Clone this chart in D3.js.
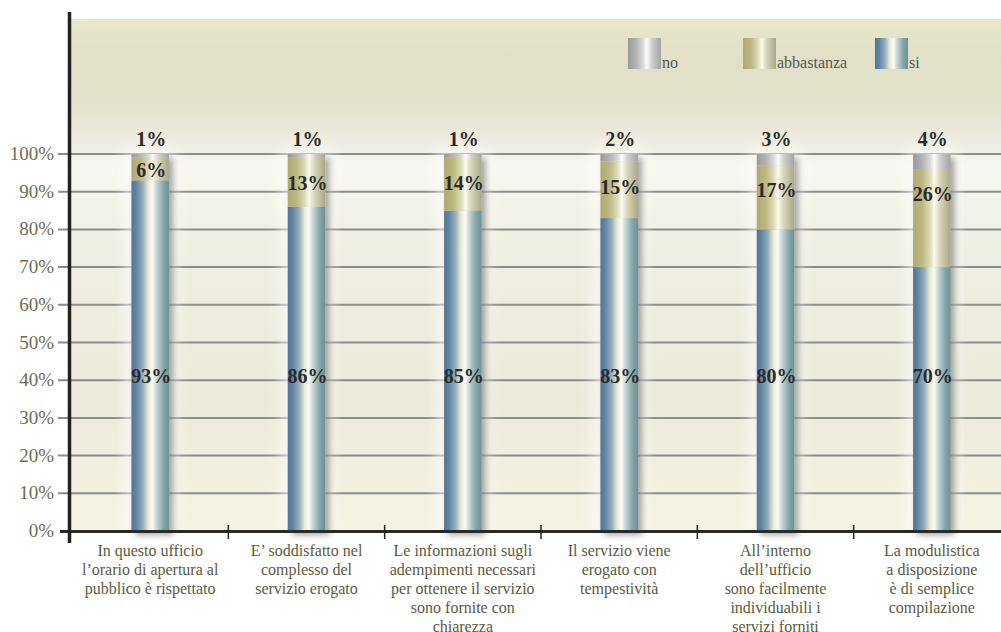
<!DOCTYPE html>
<html><head><meta charset="utf-8">
<script src="https://cdn.jsdelivr.net/npm/d3@7"></script>
<style>html,body{margin:0;padding:0;background:#fff;}svg{display:block;}</style>
</head><body>
<svg id="chart" width="1001" height="632"></svg>
<script>
const categories = ["c1","c2","c3","c4","c5","c6"];
const categoryLabels = [
  ["In questo ufficio","l\u2019orario di apertura al","pubblico è rispettato"],
  ["E\u2019 soddisfatto nel","complesso del","servizio erogato"],
  ["Le informazioni sugli","adempimenti necessari","per ottenere il servizio","sono fornite con","chiarezza"],
  ["Il servizio viene","erogato con","tempestività"],
  ["All\u2019interno","dell\u2019ufficio","sono facilmente","individuabili i","servizi forniti"],
  ["La modulistica","a disposizione","è di semplice","compilazione"]
];
const si = [93,86,85,83,80,70];
const abbastanza = [6,13,14,15,17,26];
const no = [1,1,1,2,3,4];
const seriesKeys = ["si","abbastanza","no"];
const legendOrder = ["no","abbastanza","si"];
const yTicks = [0,10,20,30,40,50,60,70,80,90,100];

const svg = d3.select("#chart");
const W = 1001, H = 632;
const plot = {left:71, right:1001, top:19, bottom:531};
const serif = "'Liberation Serif','Times New Roman',Times,serif";

const y = d3.scaleLinear().domain([0,100]).range([531,154]);
const x = d3.scaleBand().domain(categories).range([72,1010]).paddingInner(0.76).paddingOuter(0.38);

const defs = svg.append("defs");
function hGrad(id, stops){
  const g = defs.append("linearGradient").attr("id",id).attr("x1","0%").attr("x2","100%").attr("y1","0").attr("y2","0");
  stops.forEach(s=>g.append("stop").attr("offset",s[0]).attr("stop-color",s[1]));
}
hGrad("g-si",[["0%","#52769a"],["12%","#5f83a3"],["30%","#96adba"],["45%","#e9ead8"],["56%","#fbfbf4"],["68%","#c2d3d3"],["85%","#86a6ab"],["100%","#6c9196"]]);
hGrad("g-abbastanza",[["0%","#aeaa70"],["25%","#bcb982"],["45%","#dcdab8"],["57%","#fafaf0"],["72%","#d6d5b8"],["100%","#a8a786"]]);
hGrad("g-no",[["0%","#9a9a9a"],["25%","#b4b4b4"],["45%","#d8d8d8"],["57%","#fcfcfc"],["72%","#d0d0d0"],["100%","#a2a2a2"]]);

const bg = defs.append("linearGradient").attr("id","bg").attr("x1","0").attr("x2","0").attr("y1","0%").attr("y2","100%");
[["0%","#e8e6cb"],["8%","#e1e0c6"],["18%","#e4e3cf"],["25%","#efeee3"],["28.5%","#f8f7f1"],["45%","#efeee2"],["75%","#eceada"],["100%","#f6f3e3"]]
  .forEach(s=>bg.append("stop").attr("offset",s[0]).attr("stop-color",s[1]));

const shadow = defs.append("filter").attr("id","shadow").attr("x","-50%").attr("y","-10%").attr("width","200%").attr("height","130%");
shadow.append("feDropShadow").attr("dx",4).attr("dy",4).attr("stdDeviation",3).attr("flood-color","#000").attr("flood-opacity",0.35);
const glow = defs.append("filter").attr("id","glow").attr("x","-100%").attr("y","-20%").attr("width","300%").attr("height","140%");
glow.append("feGaussianBlur").attr("stdDeviation",6);

// background
svg.append("rect").attr("x",plot.left).attr("y",plot.top).attr("width",plot.right-plot.left).attr("height",plot.bottom-plot.top).attr("fill","url(#bg)");

// gridlines
svg.append("g").selectAll("line").data(yTicks.filter(d=>d>0)).join("line")
  .attr("x1",58).attr("x2",W).attr("y1",d=>y(d)).attr("y2",d=>y(d))
  .attr("stroke","#8c8c8c").attr("stroke-width",2);

// y tick labels
svg.append("g").selectAll("text").data(yTicks).join("text")
  .attr("x",54).attr("y",d=>y(d)+6).attr("text-anchor","end")
  .attr("font-family",serif).attr("font-size",19)
  .attr("fill","#6f6c52").text(d=>d+"%");

// stacked data
const table = categories.map((c,i)=>({cat:c, si:si[i], abbastanza:abbastanza[i], no:no[i]}));
const stacked = d3.stack().keys(seriesKeys)(table);

// glow behind bars
svg.append("g").selectAll("rect").data(table).join("rect")
  .attr("x",d=>x(d.cat)-8).attr("width",x.bandwidth()+16)
  .attr("y",d=>y(d.si+d.abbastanza+d.no)-6).attr("height",d=>y(0)-y(d.si+d.abbastanza+d.no)+6)
  .attr("fill","#ffffff").attr("opacity",0.55).attr("filter","url(#glow)");

const barG = svg.append("g").attr("filter","url(#shadow)");
stacked.forEach(s=>{
  barG.append("g").attr("fill",`url(#g-${s.key})`).selectAll("rect").data(s).join("rect")
    .attr("x",d=>x(d.data.cat)).attr("width",x.bandwidth())
    .attr("y",d=>y(d[1])).attr("height",d=>y(d[0])-y(d[1]));
});

// axes
svg.append("line").attr("x1",60).attr("x2",W).attr("y1",531.5).attr("y2",531.5).attr("stroke","#2a2a2a").attr("stroke-width",3);
svg.append("line").attr("x1",69.5).attr("x2",69.5).attr("y1",12).attr("y2",543).attr("stroke","#222").attr("stroke-width",3.5);
const step = x.step();
svg.append("g").selectAll("line").data(categories.slice(1)).join("line")
  .attr("x1",d=>x(d)-x.paddingInner()*step/2).attr("x2",d=>x(d)-x.paddingInner()*step/2)
  .attr("y1",525).attr("y2",539).attr("stroke","#222").attr("stroke-width",1.5);

// value labels
function label(g, xs, ys, txt){
  g.append("text").attr("x",xs).attr("y",ys).attr("text-anchor","middle")
   .attr("font-family",serif).attr("font-size",20).attr("font-weight","bold")
   .attr("fill","#2b2b2b").text(txt);
}
const lg = svg.append("g");
stacked.forEach(s=>{
  s.forEach(d=>{
    const cx = x(d.data.cat)+x.bandwidth()/2+1;
    const v = d.data[s.key];
    let yy;
    if(s.key==="si") yy = y(40)+3;
    else if(s.key==="abbastanza") yy = y(d[1]) + Math.min((y(d[0])-y(d[1]))/2, 24) + 8;
    else yy = y(100) - 8;
    label(lg, cx, yy, v+"%");
  });
});

// category labels
const cl = svg.append("g").attr("font-family",serif).attr("font-size",16).attr("fill","#5c5a40").attr("text-anchor","middle");
categories.forEach((c,i)=>{
  const t = cl.append("text").attr("x",x(c)+x.bandwidth()/2).attr("y",556);
  categoryLabels[i].forEach((ln,j)=>t.append("tspan").attr("x",x(c)+x.bandwidth()/2).attr("dy",j===0?0:19).text(ln));
});

// legend
const legendX = {no:628, abbastanza:743, si:875};
const leg = svg.append("g");
legendOrder.forEach(k=>{
  leg.append("rect").attr("x",legendX[k]).attr("y",38).attr("width",33).attr("height",31).attr("fill",`url(#g-${k})`);
  leg.append("text").attr("x",legendX[k]+34).attr("y",68).attr("font-family",serif)
    .attr("font-size",16).attr("fill","#555").text(k);
});
</script>
</body></html>
